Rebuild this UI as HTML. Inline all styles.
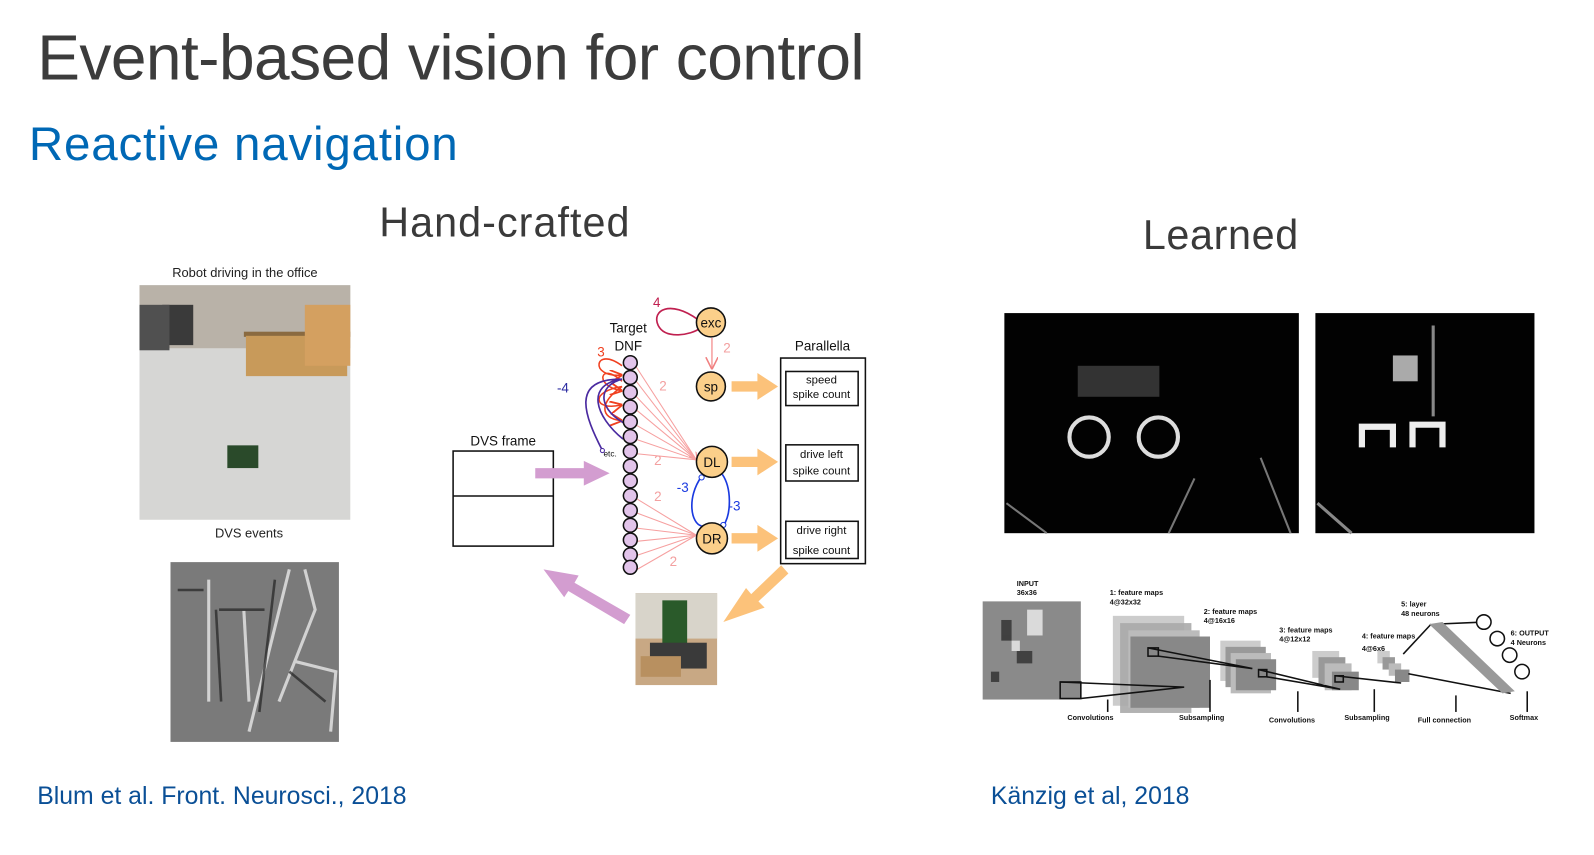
<!DOCTYPE html>
<html><head><meta charset="utf-8"><style>
html,body{margin:0;padding:0;background:#fff;}
body{width:1594px;height:827px;overflow:hidden;position:relative;font-family:"Liberation Sans",sans-serif;}
#w{position:absolute;left:0;top:0;width:1594px;height:827px;transform:scale(1.0333);transform-origin:0 0;}
.t{position:absolute;white-space:nowrap;}
</style></head><body><div id="w">
<div class="t" style="left:36px;top:21px;font-size:62px;color:#3c3c3c;letter-spacing:-0.55px;">Event-based vision for control</div>
<div class="t" style="left:28px;top:112px;font-size:46px;color:#0068b5;letter-spacing:0.75px;">Reactive navigation</div>
<div class="t" style="left:367px;top:194px;font-size:40px;color:#3a3a3a;letter-spacing:1px;">Hand-crafted</div>
<div class="t" style="left:1106px;top:206px;font-size:40px;color:#3a3a3a;letter-spacing:0.6px;">Learned</div>
<div class="t" style="left:36px;top:757px;font-size:24px;color:#0a4f96;">Blum et al. Front. Neurosci., 2018</div>
<div class="t" style="left:959px;top:757px;font-size:24px;color:#0a4f96;">Känzig et al, 2018</div>

<svg width="1594" height="827" style="position:absolute;left:0;top:0" font-family="Liberation Sans, sans-serif">
<defs>
<marker id="ar" markerWidth="8" markerHeight="8" refX="7" refY="4" orient="auto"><path d="M0,0 L8,4 L0,8" fill="none" stroke="#f08080" stroke-width="1"/></marker>
<marker id="ar2" markerWidth="8" markerHeight="8" refX="7" refY="4" orient="auto"><path d="M0,0 L8,4 L0,8" fill="none" stroke="#f04020" stroke-width="1.2"/></marker>
</defs>
<text x="237" y="268" font-size="12.5" text-anchor="middle" fill="#222">Robot driving in the office</text>
<rect x="135" y="276" width="204" height="227" fill="#d6d6d4"/>
<rect x="135" y="276" width="204" height="61" fill="#b9b2a8"/>
<rect x="236" y="321" width="103" height="5" fill="#8a6a40"/>
<rect x="238" y="325" width="98" height="39" fill="#c89a5a"/>
<rect x="295" y="295" width="44" height="59" fill="#d4a060"/>
<rect x="157" y="295" width="30" height="39" fill="#3a3a3a"/>
<rect x="135" y="295" width="29" height="44" fill="#505050"/>
<rect x="220" y="431" width="30" height="22" fill="#2a4a2a"/>
<text x="241" y="520" font-size="12.5" text-anchor="middle" fill="#222">DVS events</text>
<rect x="165" y="544" width="163" height="174" fill="#7a7a7a"/>
<g stroke="#e8e8e8" stroke-width="3" fill="none" opacity="0.8">
<path d="M202 561 L202 679"/><path d="M236 591 L241 679"/><path d="M280 551 L241 708"/><path d="M295 551 L305 590 L270 679"/><path d="M285 640 L325 650 L320 708"/>
</g>
<g stroke="#222" stroke-width="2.5" fill="none" opacity="0.7">
<path d="M212 590 L256 590"/><path d="M209 590 L214 679"/><path d="M266 561 L251 689"/><path d="M280 650 L315 679"/><path d="M172 571 L197 571"/>
</g>

<text x="487" y="431" font-size="13" text-anchor="middle" fill="#111">DVS frame</text>
<rect x="438.5" y="436.5" width="97" height="92" fill="#fff" stroke="#111" stroke-width="1.5"/>
<line x1="438" y1="480" x2="536" y2="480" stroke="#111" stroke-width="1.5"/>
<path d="M518 453 L565 453 L565 446 L590 458 L565 470 L565 463 L518 463Z" fill="#d39dd0"/>
<text x="608" y="322" font-size="13" text-anchor="middle" fill="#111">Target</text>
<text x="608" y="339" font-size="13" text-anchor="middle" fill="#111">DNF</text>
<g stroke="#f04020" stroke-width="1.5" fill="none">
<path d="M602 354 C575 334 570 366 601 363" marker-end="url(#ar2)"/>
<path d="M602 369 C580 349 575 374 601 378" marker-end="url(#ar2)"/>
<path d="M602 374 C570 379 575 398 601 392" marker-end="url(#ar2)"/>
<path d="M602 374 C580 389 580 405 601 407" marker-end="url(#ar2)"/>
</g>
<text x="578" y="345" font-size="13" fill="#f04020">3</text>
<g stroke="#4a2aa0" stroke-width="1.6" fill="none">
<path d="M602 367 C551 366 566 403 583 436"/>
<path d="M602 367 C566 372 576 403 603 425"/>
<path d="M602 367 C576 374 580 398 607 411"/>
</g>
<circle cx="583" cy="436" r="2" fill="#fff" stroke="#4a2aa0"/>
<text x="539" y="380" font-size="13" fill="#2a2aa0">-4</text>
<text x="584" y="442" font-size="8" fill="#111">etc.</text>
<g stroke="#f6a0a0" stroke-width="1" fill="none">
<path d="M615 354 L674 445" marker-end="url(#ar)"/><path d="M615 368 L674 445"/><path d="M615 383 L674 445"/><path d="M615 396 L674 445"/><path d="M615 411 L674 445"/><path d="M615 425 L674 445"/><path d="M615 439 L674 445"/>
<path d="M615 482 L674 518"/><path d="M615 496 L674 518"/><path d="M615 511 L674 518"/><path d="M615 524 L674 518"/><path d="M615 538 L674 518"/><path d="M615 552 L674 518"/>
</g>
<g font-size="13" fill="#f3a0a0"><text x="638" y="378">2</text><text x="633" y="450">2</text><text x="633" y="485">2</text><text x="648" y="548">2</text><text x="700" y="341">2</text></g>
<g fill="#e2c4ea" stroke="#111" stroke-width="1.5">
<circle cx="610" cy="351" r="6.7"/><circle cx="610" cy="365.3" r="6.7"/><circle cx="610" cy="379.6" r="6.7"/><circle cx="610" cy="393.9" r="6.7"/><circle cx="610" cy="408.2" r="6.7"/><circle cx="610" cy="422.5" r="6.7"/><circle cx="610" cy="436.8" r="6.7"/><circle cx="610" cy="451.1" r="6.7"/><circle cx="610" cy="465.4" r="6.7"/><circle cx="610" cy="479.7" r="6.7"/><circle cx="610" cy="494" r="6.7"/><circle cx="610" cy="508.3" r="6.7"/><circle cx="610" cy="522.6" r="6.7"/><circle cx="610" cy="536.9" r="6.7"/><circle cx="610" cy="549" r="6.7"/>
</g>
<path d="M675 309 C649 290 630 300 637 315 C644 329 669 324 677 318" stroke="#c02050" stroke-width="1.6" fill="none"/>
<text x="632" y="297" font-size="13" fill="#c02050">4</text>
<line x1="689" y1="327" x2="689" y2="356" stroke="#f6a0a0" stroke-width="1.5" marker-end="url(#ar)"/>
<path d="M679 461 C664 482 669 507 679 509" stroke="#1a3ae0" stroke-width="1.6" fill="none"/>
<path d="M699 459 C708 472 708 497 700 509" stroke="#1a3ae0" stroke-width="1.6" fill="none"/>
<circle cx="679" cy="462" r="2.5" fill="#fff" stroke="#1a3ae0"/><circle cx="700" cy="508" r="2.5" fill="#fff" stroke="#1a3ae0"/>
<text x="655" y="476" font-size="13" fill="#1a3ae0">-3</text><text x="705" y="494" font-size="13" fill="#1a3ae0">-3</text>
<g fill="#fbcf8a" stroke="#111" stroke-width="1.5">
<circle cx="688" cy="312" r="14"/><circle cx="688" cy="374" r="14"/><circle cx="689" cy="447" r="15"/><circle cx="689" cy="521" r="15"/>
</g>
<g font-size="13" text-anchor="middle" fill="#111"><text x="688" y="317">exc</text><text x="688" y="379">sp</text><text x="689" y="452">DL</text><text x="689" y="526">DR</text></g>
<g fill="#fcc27a">
<path d="M708 369 L733 369 L733 361 L753 374 L733 387 L733 379 L708 379Z"/>
<path d="M708 442 L733 442 L733 434 L753 447 L733 460 L733 452 L708 452Z"/>
<path d="M708 516 L733 516 L733 508 L753 521 L733 534 L733 526 L708 526Z"/>
<path d="M763 555 L734 582 L740 588 L700 602 L722 569 L727 575 L756 547Z"/>
</g>
<path d="M610 595 L556 564 L560 557 L526 551 L546 578 L550 572 L604 604Z" fill="#d39dd0"/>
<text x="796" y="339" font-size="13" text-anchor="middle" fill="#111">Parallella</text>
<rect x="755.5" y="346.5" width="82" height="199" fill="#fff" stroke="#111" stroke-width="1.5"/>
<g fill="#fff" stroke="#111" stroke-width="1.5"><rect x="760.5" y="359.5" width="70" height="33"/><rect x="760.5" y="430.5" width="70" height="35"/><rect x="760.5" y="504.5" width="70" height="36"/></g>
<g font-size="11" text-anchor="middle" fill="#111"><text x="795" y="371">speed</text><text x="795" y="385">spike count</text><text x="795" y="443">drive left</text><text x="795" y="459">spike count</text><text x="795" y="517">drive right</text><text x="795" y="536">spike count</text></g>
<rect x="615" y="574" width="79" height="89" fill="#c8a884"/>
<rect x="615" y="574" width="79" height="44" fill="#d8d4ca"/>
<rect x="641" y="581" width="24" height="44" fill="#2a5a2a"/>
<rect x="629" y="622" width="55" height="25" fill="#3a3a3a"/>
<rect x="620" y="635" width="39" height="20" fill="#b89060"/>

<rect x="972" y="303" width="285" height="213" fill="#020202"/>
<g fill="none" stroke="#ddd" stroke-width="4"><circle cx="1054" cy="423" r="19"/><circle cx="1121" cy="423" r="19"/></g>
<g stroke="#777" stroke-width="2"><line x1="1220" y1="443" x2="1249" y2="516"/><line x1="1156" y1="463" x2="1131" y2="516"/><line x1="974" y1="487" x2="1013" y2="516"/></g>
<rect x="1043" y="354" width="79" height="30" fill="#333"/>
<rect x="1273" y="303" width="212" height="213" fill="#020202"/>
<g fill="none" stroke="#eee" stroke-width="6"><path d="M1318 433 L1318 413 L1348 413 L1348 433"/><path d="M1367 433 L1367 411 L1396 411 L1396 433"/></g>
<rect x="1348" y="344" width="24" height="25" fill="#aaa"/>
<g stroke="#888" stroke-width="3"><line x1="1275" y1="487" x2="1308" y2="516"/><line x1="1387" y1="315" x2="1387" y2="403"/></g>

<g font-size="7" font-weight="bold" fill="#111">
<text x="984" y="567">INPUT</text><text x="984" y="576">36x36</text>
<text x="1074" y="576">1: feature maps</text><text x="1074" y="585">4@32x32</text>
<text x="1165" y="594">2: feature maps</text><text x="1165" y="603">4@16x16</text>
<text x="1238" y="612">3: feature maps</text><text x="1238" y="621">4@12x12</text>
<text x="1318" y="618">4: feature maps</text><text x="1318" y="630">4@6x6</text>
<text x="1356" y="587">5: layer</text><text x="1356" y="596">48 neurons</text>
<text x="1462" y="615">6: OUTPUT</text><text x="1462" y="624">4 Neurons</text>
<text x="1033" y="697">Convolutions</text><text x="1141" y="697">Subsampling</text><text x="1228" y="699">Convolutions</text><text x="1301" y="697">Subsampling</text><text x="1372" y="699">Full connection</text><text x="1461" y="697">Softmax</text>
</g>
<rect x="951" y="582" width="95" height="95" fill="#8a8a8a"/>
<g fill="#222" opacity="0.7"><rect x="969" y="600" width="10" height="20"/><rect x="984" y="630" width="15" height="12"/><rect x="959" y="650" width="8" height="10"/></g>
<g fill="#eee" opacity="0.8"><rect x="994" y="590" width="15" height="25"/><rect x="979" y="620" width="8" height="10"/></g>
<rect x="1077" y="596" width="69" height="87" fill="#ccc"/><rect x="1084" y="603" width="69" height="87" fill="#aaa" opacity="0.9"/><rect x="1092" y="610" width="69" height="75" fill="#bbb"/><rect x="1094" y="616" width="77" height="69" fill="#888"/>
<rect x="1181" y="620" width="39" height="39" fill="#ccc"/><rect x="1186" y="626" width="39" height="39" fill="#999"/><rect x="1191" y="632" width="39" height="39" fill="#bbb"/><rect x="1196" y="638" width="39" height="30" fill="#888"/>
<rect x="1270" y="630" width="26" height="26" fill="#ccc"/><rect x="1276" y="636" width="26" height="26" fill="#999"/><rect x="1282" y="642" width="26" height="26" fill="#bbb"/><rect x="1289" y="650" width="26" height="18" fill="#888"/>
<rect x="1333" y="630" width="12" height="12" fill="#ccc"/><rect x="1338" y="636" width="12" height="12" fill="#999"/><rect x="1344" y="642" width="12" height="12" fill="#bbb"/><rect x="1350" y="648" width="14" height="12" fill="#888"/>
<g stroke="#111" stroke-width="1.5" fill="none">
<rect x="1026" y="660" width="20" height="16"/><path d="M1026 660 L1146 665 L1046 676"/>
<rect x="1111" y="627" width="10" height="8"/><path d="M1111 627 L1212 647 L1121 635"/>
<rect x="1218" y="648" width="8" height="7"/><path d="M1218 648 L1297 667 L1226 655"/>
<rect x="1292" y="654" width="8" height="6"/><path d="M1292 654 L1356 661"/>
<path d="M1358 633 L1385 604"/><path d="M1390 604 L1436 602"/><path d="M1363 652 L1462 671"/>
</g>
<path d="M1383 604 L1396 602 L1466 669 L1454 671Z" fill="#999"/>
<g fill="#fff" stroke="#111" stroke-width="1.5"><circle cx="1436" cy="602" r="7"/><circle cx="1449" cy="618" r="7"/><circle cx="1461" cy="634" r="7"/><circle cx="1473" cy="650" r="7"/></g>
<g stroke="#111" stroke-width="1.5"><line x1="1072" y1="677" x2="1072" y2="689"/><line x1="1171" y1="658" x2="1171" y2="689"/><line x1="1256" y1="669" x2="1256" y2="689"/><line x1="1330" y1="667" x2="1330" y2="689"/><line x1="1409" y1="673" x2="1409" y2="689"/><line x1="1478" y1="669" x2="1478" y2="689"/></g>
</svg>
</div></body></html>
